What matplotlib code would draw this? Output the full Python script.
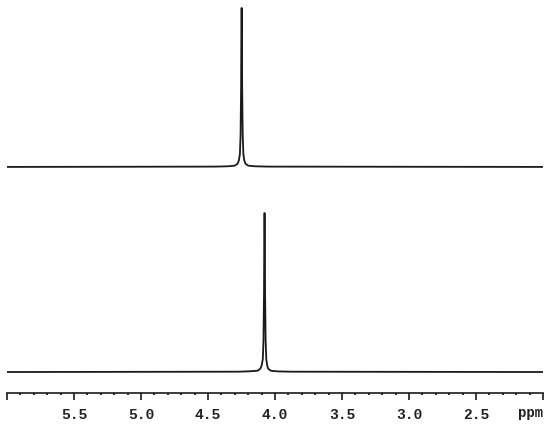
#!/usr/bin/env python3
"""Two stacked 1H NMR traces, single peak each, on a shared ppm axis."""

import matplotlib as mpl

mpl.use("Agg")

import matplotlib.pyplot as plt
from matplotlib.ticker import FixedLocator, MultipleLocator

# values (ppm, normalised intensity)
ppm_top = [6.00, 4.45, 4.35, 4.30, 4.28, 4.27, 4.262, 4.257, 4.253, 4.251,
           4.249, 4.247, 4.245, 4.241, 4.236, 4.229, 4.22, 4.20, 4.15, 4.05, 2.00]
int_top = [0.0, 0.002, 0.004, 0.008, 0.02, 0.04, 0.08, 0.2, 0.5, 0.85,
           1.0, 0.85, 0.5, 0.2, 0.08, 0.04, 0.02, 0.008, 0.004, 0.002, 0.0]

ppm_bottom = [6.00, 4.28, 4.20, 4.13, 4.11, 4.10, 4.091, 4.086, 4.082, 4.080,
              4.078, 4.076, 4.074, 4.070, 4.065, 4.058, 4.05, 4.03, 3.98, 3.88, 2.00]
int_bottom = [0.0, 0.002, 0.004, 0.008, 0.02, 0.04, 0.08, 0.2, 0.5, 0.85,
              1.0, 0.85, 0.5, 0.2, 0.08, 0.04, 0.02, 0.008, 0.004, 0.002, 0.0]

top_offset = 1.29
major_ticks = [6.0, 5.5, 5.0, 4.5, 4.0, 3.5, 3.0, 2.5, 2.0]
major_labels = ["", "5.5", "5.0", "4.5", "4.0", "3.5", "3.0", "2.5", ""]

fig = plt.figure(figsize=(5.5, 4.25), dpi=100)
ax = fig.add_axes([7 / 550, 32 / 425, 536 / 550, 393 / 425])

line_kw = dict(color="#1a1a1a", lw=1.3, solid_joinstyle="round")
ax.plot(ppm_top, [v + top_offset for v in int_top], **line_kw)
ax.plot(ppm_bottom, int_bottom, **line_kw)

ax.set_xlim(6.0, 2.0)
ax.set_ylim(-0.132, 2.34)

for side in ("top", "left", "right"):
    ax.spines[side].set_visible(False)
ax.spines["bottom"].set_linewidth(1.2)
ax.spines["bottom"].set_color("#1a1a1a")
ax.set_yticks([])

ax.xaxis.set_major_locator(FixedLocator(major_ticks))
ax.set_xticklabels(major_labels, family="Liberation Mono", fontsize=10.5,
                   fontweight="bold", color="#222222")
ax.xaxis.set_minor_locator(MultipleLocator(0.1))
ax.tick_params(axis="x", which="major", direction="out", length=5, width=1.2,
               color="#1a1a1a", pad=6)
ax.tick_params(axis="x", which="minor", direction="out", length=1.6, width=1.3,
               color="#1a1a1a")

ax.text(1.0, -0.052, "ppm", transform=ax.transAxes, ha="right", va="center",
        family="Liberation Mono", fontsize=10, fontweight="bold", color="#222222")

fig.savefig("out.png", dpi=100)
plt.close(fig)
